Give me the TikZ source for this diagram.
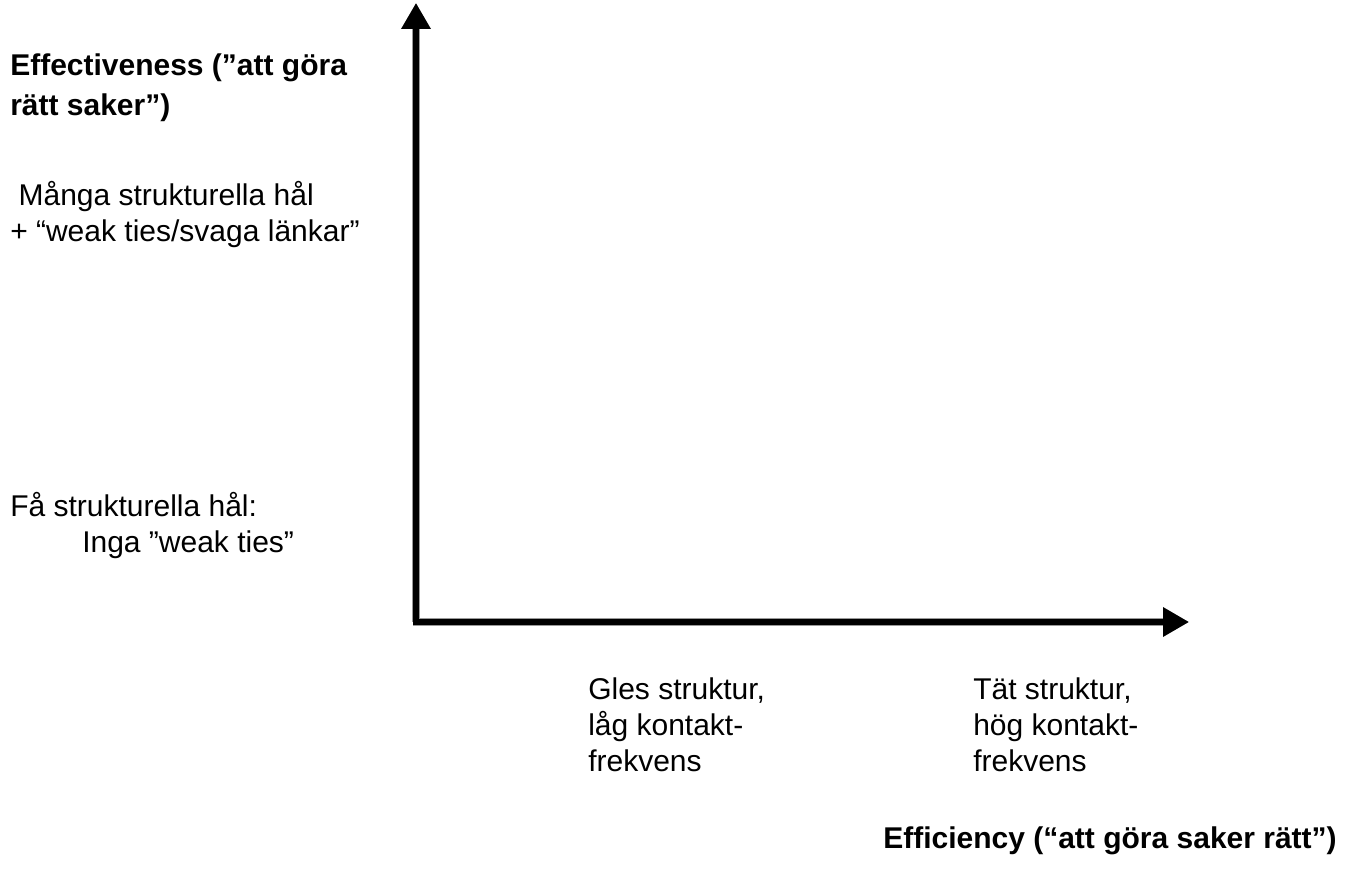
\documentclass[tikz,border=0pt]{standalone}
\usepackage{fontspec}
\setmainfont{Liberation Sans}
\usepackage{tikz}
\usetikzlibrary{arrows.meta}

\tikzset{
  axisline/.style={line width=4.5pt,-{Triangle[length=19.5pt,width=21pt]}},
  axisshadow/.style={axisline,draw=black!40,fill=black!40,line width=5.5pt},
  lbl/.style={anchor=base west,inner sep=0pt,align=left,font=\fontsize{22.5pt}{27pt}\selectfont},
  boldlbl/.style={lbl,font=\fontsize{22.5pt}{30pt}\selectfont\bfseries}
}

\begin{document}
\begin{tikzpicture}[x=0.75pt,y=0.75pt,yscale=-1,xscale=1]
\useasboundingbox (0,0) rectangle (1348,887);

%Axis points
\coordinate (origin) at (416,622);
\coordinate (ytip) at (416,3);
\coordinate (xtip) at (1189,622);
\coordinate (xstart) at (413,622);

%Shadow of the axes
\begin{scope}[shift={(-2,2)}]
\draw [axisshadow] (origin) -- (ytip);
\draw [axisshadow] (xstart) -- (xtip);
\end{scope}

%Axes
\draw [axisline] (origin) -- (ytip);
\draw [axisline] (xstart) -- (xtip);

% Text Node (base = last line)
\node [boldlbl] (effectiveness) at (10,116) {Effectiveness (”att göra\\rätt saker”)};
% Text Node
\node [lbl] (manyholes) at (10,242) {\ Många strukturella hål\\+ “weak ties/svaga länkar”};
% Text Node
\node [lbl] (fewholes) at (10,516) {Få strukturella hål:};
% Text Node
\node [lbl] (noweak) at (82,552) {Inga ”weak ties”};
% Text Node
\node [lbl] (sparse) at (588,771) {Gles struktur,\\låg kontakt-\\frekvens};
% Text Node
\node [lbl] (dense) at (973,771) {Tät struktur,\\hög kontakt-\\frekvens};
% Text Node
\node [boldlbl] (efficiency) at (883,848) {Efficiency (“att göra saker rätt”)};

\end{tikzpicture}
\end{document}
